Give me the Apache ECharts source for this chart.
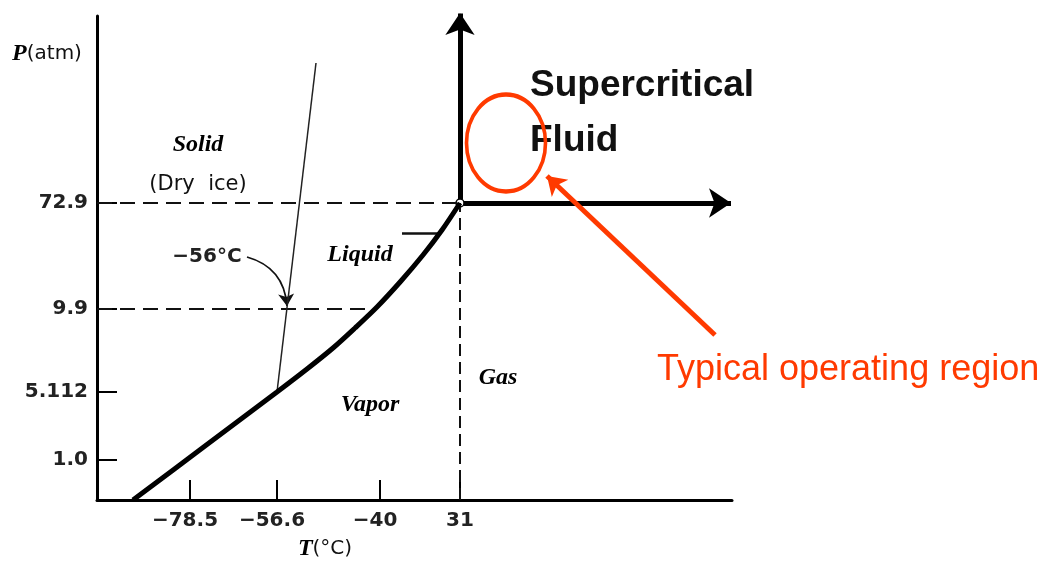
<!doctype html>
<html lang="en">

<head>
	<meta charset="UTF-8">
	<title>CO2 phase diagram</title>
	<script src="https://cdn.jsdelivr.net/npm/echarts@6/dist/echarts.min.js"></script>
	<style>
		html,
		body {
			margin: 0;
			padding: 0;
			width: 100%;
			height: 100%;
			background: #fff;
		}

		#main {
			width: 1059px;
			height: 563px;
		}
	</style>
</head>

<body>
	<div id="main"></div>
	<script type="text/javascript">
		// schematic units (diagram is not to scale)
		var tempLabels = ['\u221278.5', '\u221256.6', '\u221240', '31'];
		var tempPos = [93, 180, 283, 363];
		var presLabels = ['1.0', '5.112', '9.9', '72.9'];
		var presPos = [40, 108, 191, 297];

		var vaporCurve = [[36, 0], [108, 54], [180, 108], [210, 131], [236, 152], [258, 172], [280, 193], [304, 219], [326, 245], [345, 270], [363, 297]];
		var meltLine = [[180, 108], [219, 437]];
		var critical = [363, 297];

		var dash729 = [[0, 297], [363, 297]];
		var dash99 = [[0, 191], [280, 191]];
		var dash31 = [[363, 0], [363, 297]];

		var arrowUp = [[363, 297], [363, 487]];
		var arrowRight = [[363, 297], [634, 297]];
		var ellipse = [409, 357];
		var redArrow = [[618, 165], [450, 324]];
		var tripleArrow = [[150, 243], [190, 194]];
		var liquidLeader = [[305, 267], [344, 267]];

		var serifIt = { fontFamily: 'Liberation Serif', fontStyle: 'italic', fontWeight: 'bold', fontSize: 24, color: '#000' };
		var sans = { fontFamily: 'DejaVu Sans', fontSize: 20, color: '#111' };
		var big = { fontFamily: 'Liberation Sans', fontWeight: 'bold', fontSize: 37, color: '#111' };

		var notes = [
			{ value: [101, 355], text: 'Solid', style: serifIt },
			{ value: [101, 315], text: '(Dry  ice)', style: { fontFamily: 'DejaVu Sans', fontSize: 21, color: '#111' } },
			{ value: [110, 243], text: '\u221256\u00b0C', style: { fontFamily: 'DejaVu Sans', fontWeight: 'bold', fontSize: 20, color: '#222' } },
			{ value: [263, 245], text: 'Liquid', style: serifIt },
			{ value: [273, 95], text: 'Vapor', style: serifIt },
			{ value: [401, 122], text: 'Gas', style: serifIt },
			{ value: [433, 414], text: 'Supercritical', align: 'left', style: big },
			{ value: [433, 359], text: 'Fluid', align: 'left', style: big },
			{ value: [560, 130], text: 'Typical operating region', align: 'left', style: { fontFamily: 'Liberation Sans', fontSize: 36, color: '#ff3a00' } },
			{ value: [-50, 446], text: '{i|P}(atm)', style: sans },
			{ value: [228, -49], text: '{i|T}(\u00b0C)', style: sans }
		];

		var myChart = echarts.init(document.getElementById('main'));

		function dashed(data, pattern) {
			return {
				type: 'line', data: data, symbol: 'none', silent: true,
				lineStyle: { color: '#111', width: 2, type: pattern }
			};
		}

		var tickFont = { fontSize: 20, fontWeight: 'bold', color: '#222', fontFamily: 'DejaVu Sans' };

		option = {
			animation: false,
			grid: { left: 97, right: 327, top: 16, bottom: 63, containLabel: false, outerBoundsMode: 'none' },
			xAxis: {
				type: 'value', min: 0, max: 635,
				splitLine: { show: false },
				axisLine: { lineStyle: { color: '#000', width: 3 } },
				axisTick: { inside: true, length: 20, customValues: tempPos, lineStyle: { color: '#000', width: 2 } },
				axisLabel: Object.assign({
					customValues: tempPos, margin: 11,
					formatter: function (v) {
						var s = tempLabels[tempPos.indexOf(v)];
						return s.charAt(0) === '\u2212' ? '{n|' + s + '}' : s;
					},
					rich: { n: Object.assign({ padding: [0, 10, 0, 0] }, tickFont) }
				}, tickFont)
			},
			yAxis: {
				type: 'value', min: 0, max: 484,
				splitLine: { show: false },
				axisLine: { lineStyle: { color: '#000', width: 3 } },
				axisTick: { inside: true, length: 20, customValues: presPos, lineStyle: { color: '#000', width: 2 } },
				axisLabel: Object.assign({
					customValues: presPos, margin: 9,
					formatter: function (v) { return presLabels[presPos.indexOf(v)]; }
				}, tickFont)
			},
			series: [
				dashed(dash729, [15, 8]),
				dashed(dash99, [15, 8]),
				dashed(dash31, [12, 6]),
				{
					type: 'line', data: meltLine, symbol: 'none', silent: true,
					lineStyle: { color: '#222', width: 1.5 }
				},
				{
					type: 'line', data: vaporCurve, symbol: 'none', smooth: 0.3, silent: true,
					lineStyle: { color: '#000', width: 5 }
				},
				{
					type: 'lines', coordinateSystem: 'cartesian2d', silent: true,
					symbol: ['none', 'arrow'], symbolSize: [27, 22],
					lineStyle: { color: '#000', width: 5, opacity: 1 },
					data: [{ coords: arrowUp }, { coords: arrowRight }]
				},
				{
					type: 'lines', coordinateSystem: 'cartesian2d', silent: true, z: 5,
					symbol: ['none', 'arrow'], symbolSize: [16, 18],
					lineStyle: { color: '#ff3a00', width: 5, opacity: 1 },
					data: [{ coords: redArrow }]
				},
				{
					type: 'lines', coordinateSystem: 'cartesian2d', silent: true,
					symbol: ['none', 'arrow'], symbolSize: [9, 12],
					lineStyle: { color: '#111', width: 1.8, opacity: 1, curveness: 0.35 },
					data: [{ coords: tripleArrow }]
				},
				{
					type: 'lines', coordinateSystem: 'cartesian2d', silent: true,
					lineStyle: { color: '#111', width: 2.5, opacity: 1 },
					data: [{ coords: liquidLeader }]
				},
				{
					type: 'scatter', data: [critical], symbol: 'circle', symbolSize: 8, silent: true,
					itemStyle: { color: '#fff', borderColor: '#000', borderWidth: 1.5, opacity: 1 }
				},
				{
					type: 'scatter', symbolSize: 0, silent: true, clip: false, z: 3,
					itemStyle: { opacity: 1 },
					data: notes.map(function (n) {
						return {
							value: n.value,
							label: Object.assign({
								show: true, position: 'inside', formatter: n.text,
								align: n.align || 'center', verticalAlign: 'middle',
								rich: { i: { fontFamily: 'Liberation Serif', fontStyle: 'italic', fontWeight: 'bold', fontSize: 24, color: '#000' } }
							}, n.style)
						};
					})
				},
				{
					type: 'scatter', data: [ellipse], symbol: 'circle', symbolSize: [79, 97], silent: true, clip: false, z: 6,
					itemStyle: { color: 'rgba(0,0,0,0)', borderColor: '#ff3a00', borderWidth: 4, opacity: 1 }
				}
			]
		};
		myChart.setOption(option);
	</script>
</body>

</html>
